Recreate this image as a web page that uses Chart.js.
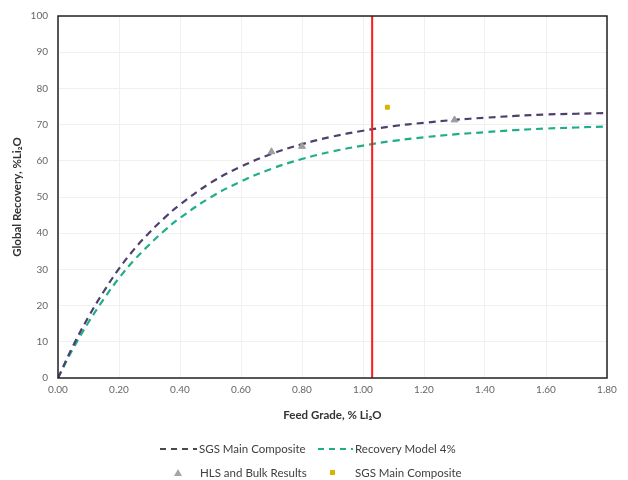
<!DOCTYPE html>
<html>
<head>
<meta charset="utf-8">
<script src="https://cdn.jsdelivr.net/npm/chart.js@4/dist/chart.umd.min.js"></script>
<style>
  html, body { margin: 0; padding: 0; background: #fff; }
  #wrap { width: 628px; height: 480px; position: relative; }
</style>
</head>
<body>
<div id="wrap"><canvas id="chart"></canvas></div>
<script>
// Feed grade (% Li2O) along the model curves
const feedGrade = [0, 0.05, 0.1, 0.15, 0.2, 0.25, 0.3, 0.35, 0.4, 0.5, 0.6, 0.7, 0.8, 0.9, 1.0, 1.1, 1.2, 1.3, 1.4, 1.5, 1.6, 1.7, 1.8];
// SGS Main Composite model curve
const sgsModel = [0, 9.0, 16.9, 23.9, 30.2, 35.6, 40.2, 44.3, 47.9, 53.9, 58.4, 61.9, 64.6, 66.7, 68.3, 69.6, 70.5, 71.3, 71.9, 72.4, 72.8, 73.0, 73.2];
// Recovery Model 4%
const recoveryModel = [0, 8.2, 15.4, 21.8, 27.6, 32.6, 36.9, 40.8, 44.2, 49.9, 54.3, 57.8, 60.5, 62.6, 64.2, 65.5, 66.5, 67.3, 67.9, 68.5, 68.9, 69.2, 69.5];
// HLS and Bulk results
const hlsGrade = [0.70, 0.80, 1.30];
const hlsRecovery = [62.5, 64.0, 71.3];
// SGS Main Composite test point
const sgsGrade = [1.08];
const sgsRecovery = [74.8];
// cut-off grade line
const cutoffGrade = 1.03;
const xTickLabels = ["0.00", "0.20", "0.40", "0.60", "0.80", "1.00", "1.20", "1.40", "1.60", "1.80"];
const yTickLabels = ["0", "10", "20", "30", "40", "50", "60", "70", "80", "90", "100"];

const toPts = (xs, ys) => xs.map((x, i) => ({ x: x, y: ys[i] }));

const FONT = "Lato, 'Open Sans', sans-serif";
const DARK = "#4f3f6e";
const GREEN = "#1fae88";

const frame = {
  id: "frame",
  afterDatasetsDraw(chart) {
    const { ctx, chartArea: a } = chart;
    ctx.save();
    ctx.strokeStyle = "#222";
    ctx.lineWidth = 1.5;
    ctx.strokeRect(a.left, a.top, a.right - a.left, a.bottom - a.top);
    ctx.restore();
  },
  afterDraw(chart) {
    const ctx = chart.ctx;
    ctx.save();
    ctx.font = "11.5px " + FONT;
    ctx.fillStyle = "#404040";
    ctx.textBaseline = "middle";
    ctx.lineWidth = 2;

    // row 1
    ctx.strokeStyle = "#4a4a4a";
    ctx.setLineDash([6, 5]);
    ctx.beginPath(); ctx.moveTo(160, 449); ctx.lineTo(197, 449); ctx.stroke();
    ctx.fillText("SGS Main Composite", 199, 449);
    ctx.strokeStyle = GREEN;
    ctx.beginPath(); ctx.moveTo(318, 449); ctx.lineTo(353, 449); ctx.stroke();
    ctx.setLineDash([]);
    ctx.fillText("Recovery Model 4%", 355, 449);

    // row 2
    ctx.fillStyle = "#a6a6a6";
    ctx.beginPath(); ctx.moveTo(178, 469); ctx.lineTo(182, 476); ctx.lineTo(174, 476); ctx.closePath(); ctx.fill();
    ctx.fillStyle = "#404040";
    ctx.fillText("HLS and Bulk Results", 200, 473);
    ctx.fillStyle = "#d6b400";
    ctx.fillRect(330, 470, 5, 5);
    ctx.fillStyle = "#404040";
    ctx.fillText("SGS Main Composite", 355, 473);
    ctx.restore();
  }
};

new Chart(document.getElementById("chart"), {
  type: "scatter",
  data: {
    datasets: [
      {
        label: "SGS Main Composite",
        data: toPts(feedGrade, sgsModel),
        showLine: true,
        borderColor: DARK,
        borderWidth: 2.2,
        borderDash: [7, 5],
        pointRadius: 0,
        tension: 0.4,
        order: 3
      },
      {
        label: "Recovery Model 4%",
        data: toPts(feedGrade, recoveryModel),
        showLine: true,
        borderColor: GREEN,
        borderWidth: 2.2,
        borderDash: [7, 5],
        pointRadius: 0,
        tension: 0.4,
        order: 4
      },
      {
        label: "HLS and Bulk Results",
        data: toPts(hlsGrade, hlsRecovery),
        pointStyle: "triangle",
        pointRadius: 4,
        backgroundColor: "#9e9e9e",
        borderColor: "#9e9e9e",
        order: 1
      },
      {
        label: "SGS Main Composite",
        data: toPts(sgsGrade, sgsRecovery),
        pointStyle: "rect",
        pointRadius: 2.8,
        backgroundColor: "#d6b400",
        borderColor: "#d6b400",
        order: 1
      },
      {
        label: "Cut-off",
        data: [{ x: cutoffGrade, y: 0 }, { x: cutoffGrade, y: 100 }],
        showLine: true,
        borderColor: "#ff1a1a",
        borderWidth: 2,
        pointRadius: 0,
        order: 2
      }
    ]
  },
  options: {
    responsive: true,
    maintainAspectRatio: false,
    animation: false,
    layout: { padding: { top: 16, right: 21, bottom: 58, left: 10 } },
    plugins: {
      legend: { display: false },
      tooltip: { enabled: false }
    },
    scales: {
      x: {
        type: "linear",
        min: 0,
        max: 1.8,
        afterFit: (s) => { s.height = 44; },
        ticks: {
          stepSize: 0.2,
          padding: 6,
          color: "#666",
          font: { family: FONT, size: 10 },
          callback: (v) => xTickLabels[Math.round(v / 0.2)]
        },
        grid: { color: "#f0f0f0", drawTicks: false },
        border: { display: false },
        title: {
          display: true,
          text: "Feed Grade, % Li\u2082O",
          color: "#333",
          font: { family: FONT, size: 11.5, weight: "bold" },
          padding: { top: 4, bottom: 0 }
        }
      },
      y: {
        min: 0,
        max: 100,
        afterFit: (s) => { s.width = 48; },
        ticks: {
          stepSize: 10,
          padding: 10,
          color: "#666",
          font: { family: FONT, size: 10 },
          callback: (v) => yTickLabels[Math.round(v / 10)]
        },
        grid: { color: "#f0f0f0", drawTicks: false },
        border: { display: false },
        title: {
          display: true,
          text: "Global Recovery, %Li\u2082O",
          color: "#333",
          font: { family: FONT, size: 11.5, weight: "bold" },
          padding: { top: 0, bottom: 0 }
        }
      }
    }
  },
  plugins: [frame]
});
</script>
</body>
</html>
